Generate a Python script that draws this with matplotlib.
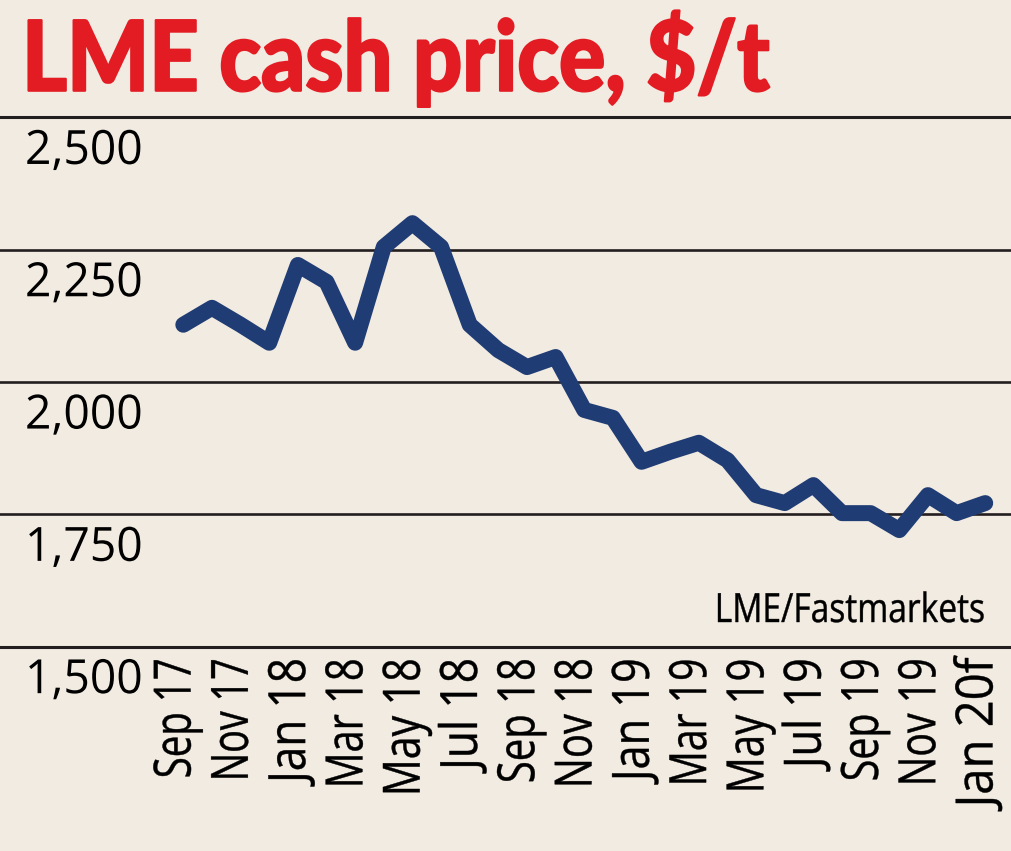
#!/usr/bin/env python3
# LME cash price line chart
import matplotlib
matplotlib.use("Agg")
import matplotlib.pyplot as plt
import matplotlib.transforms as mtransforms
from matplotlib.patheffects import AbstractPathEffect

# monthly LME cash price, $/t, Sep 2017 .. Jan 2020 (f = forecast)
months = ["Sep 17", "Oct 17", "Nov 17", "Dec 17", "Jan 18", "Feb 18", "Mar 18",
          "Apr 18", "May 18", "Jun 18", "Jul 18", "Aug 18", "Sep 18", "Oct 18",
          "Nov 18", "Dec 18", "Jan 19", "Feb 19", "Mar 19", "Apr 19", "May 19",
          "Jun 19", "Jul 19", "Aug 19", "Sep 19", "Oct 19", "Nov 19", "Dec 19",
          "Jan 20f"]
prices = [2108, 2140, 2108, 2074, 2221, 2189, 2074, 2255, 2300, 2255, 2108,
          2060, 2028, 2047, 1947, 1932, 1849, 1868, 1885, 1852, 1786, 1771,
          1805, 1752, 1752, 1720, 1786, 1752, 1771]
tick_every = 2  # every second month labelled
y_ticks = [1500, 1750, 2000, 2250, 2500]
y_labels = ["1,500", "1,750", "2,000", "2,250", "2,500"]

# printed length (px) of each month label in the condensed original type
label_len = [120, 123, 125, 130, 138, 112, 125, 130, 123, 128, 135, 110, 123, 128, 150]

BG = "#f2ebe1"
LINE = "#1f3c74"
RED = "#e31b23"
INK = "#231f20"
BODY = ["Open Sans", "Noto Sans", "DejaVu Sans"]
HEAD = ["Lato", "Roboto", "DejaVu Sans"]


class Squeeze(AbstractPathEffect):
    """Narrow the glyphs along the text direction (the paper uses condensed type),
    optionally fattening them a little with an outline of the fill colour."""

    def __init__(self, sx=1.0, anchor="left", fatten=0.0):
        super().__init__()
        self.sx = sx
        self.anchor = anchor
        self.fatten = fatten

    def draw_path(self, renderer, gc, tpath, affine, rgbFace=None):
        ext = tpath.get_extents()
        if self.anchor == "right":
            cx = ext.x1
        elif self.anchor == "center":
            cx = 0.5 * (ext.x0 + ext.x1)
        else:
            cx = 0.0
        squeeze = mtransforms.Affine2D().translate(-cx, 0).scale(self.sx, 1).translate(cx, 0)
        gc0 = renderer.new_gc()
        gc0.copy_properties(gc)
        if self.fatten > 0 and rgbFace is not None:
            gc0.set_linewidth(self.fatten)
            gc0.set_foreground(rgbFace)
            gc0.set_joinstyle("round")
        renderer.draw_path(gc0, tpath, squeeze + affine, rgbFace)
        gc0.restore()


W, H = 1012, 851
fig = plt.figure(figsize=(W / 100, H / 100), dpi=100, facecolor=BG)

# plot area: 1,500 line at y=646.5 px, 2,500 line at y=117.3 px (from top)
y0 = (H - 646.5) / H
y1 = (H - 117.3) / H
ax = fig.add_axes([0, y0, 1, y1 - y0])
ax.set_facecolor(BG)
ax.set_ylim(1500, 2500)
# first point at x=183 px, month spacing 28.64 px
step = 28.64
ax.set_xlim(-183.3 / step, (W - 183.3) / step)
ax.axis("off")

for v in y_ticks:
    lw = 2.2 if v in (1500, 2500) else 1.9
    ax.axhline(v, color=INK, lw=lw, zorder=1, clip_on=False)

x = list(range(len(months)))
ax.plot(x, prices, color=LINE, lw=11.5, solid_capstyle="round",
        solid_joinstyle="round", zorder=3, clip_on=False)

# month labels, rotated, hanging below the 1,500 line
xlabs = []
for i in x[::tick_every]:
    t = ax.annotate(months[i], xy=(i, 1500), xycoords="data", xytext=(-4.5, -8),
                    textcoords="offset points", rotation=90, ha="center",
                    va="top", fontsize=37, family=BODY, color="black",
                    annotation_clip=False)
    xlabs.append(t)

# price labels sit just under each gridline
blend = mtransforms.blended_transform_factory(fig.transFigure, ax.transData)
ylabs = []
for v, lbl in zip(y_ticks, y_labels):
    t = ax.annotate(lbl, xy=(25 / W, v), xycoords=blend, xytext=(0, -33.6),
                    textcoords="offset points", ha="left", va="baseline",
                    fontsize=34, family=BODY, color="black",
                    annotation_clip=False)
    ylabs.append(t)

title = fig.text(22 / W, (H - 90.7) / H, "LME cash price, $/t", color=RED,
                 fontsize=70, fontweight="black", family=HEAD,
                 ha="left", va="baseline")
source = fig.text(985 / W, (H - 622) / H, "LME/Fastmarkets", color="black",
                  fontsize=29, family=BODY, ha="right", va="baseline")

# measure natural widths, then narrow each text to its width in the original
fig.canvas.draw()
r = fig.canvas.get_renderer()


def fit(texts, target, anchor, vertical=False, fatten=0.0):
    bb = texts[0].get_window_extent(r)
    size = bb.height if vertical else bb.width
    sx = min(1.0, target / size)
    for t in texts:
        t.set_path_effects([Squeeze(sx, anchor, fatten)])


fit([title], 748, "left", fatten=1.6)
fit(ylabs[-1:] + ylabs[:-1], 118, "left")
for t, n in zip(xlabs, label_len):
    fit([t], n, "right", vertical=True, fatten=0.3)
fit([source], 270, "right", fatten=0.3)

fig.savefig("out.png", dpi=100, facecolor=BG)
